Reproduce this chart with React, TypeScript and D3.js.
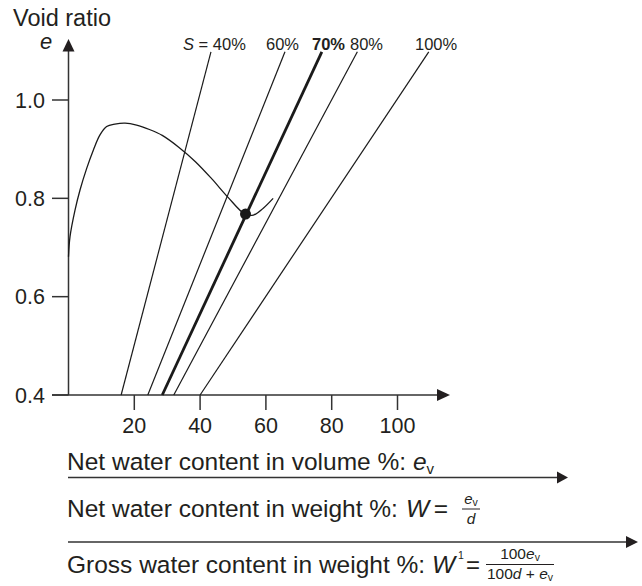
import React from "react";
import * as d3 from "d3";

// ---- data ----
const yTicks = [0.4, 0.6, 0.8, 1.0];
const xTicks = [20, 40, 60, 80, 100];
const saturationLabels = ["40%", "60%", "70%", "80%", "100%"];
const saturationBold = [false, false, true, false, false];
// each saturation line runs from (evBottom, eBottom) to (evTop, eTop)
const satEvBottom = [16.0, 24.1, 28.5, 32.0, 40.0];
const satEvTop = [43.3, 65.8, 77.0, 87.8, 109.5];
const satEBottom = 0.4;
const satETop = 1.098;
// compaction curve: net water content in volume % (ev) vs void ratio (e)
const curveEv = [0, 0.46, 1.98, 3.5, 5.53, 7.54, 9.57, 11.6, 14.1, 17.2, 20.7, 24.6, 28.5, 33.5, 38.5, 43.5, 48.5, 53.6, 56.2, 59.2, 62.2];
const curveE = [0.681, 0.722, 0.776, 0.817, 0.861, 0.898, 0.929, 0.946, 0.951, 0.953, 0.949, 0.94, 0.928, 0.904, 0.875, 0.84, 0.802, 0.768, 0.766, 0.78, 0.8];
const optimumEv = [53.8];
const optimumE = [0.768];

const FONT = "'Liberation Sans', Arial, Helvetica, sans-serif";
const INK = "#231f20";

export default function App() {
  const x = d3.scaleLinear().domain([0, 100]).range([68.5, 397.5]);
  const y = d3.scaleLinear().domain([0.4, 1.0]).range([395, 100]);
  const x0 = x(0);
  const y0 = y(0.4);

  const curvePts: [number, number][] = curveEv.map((v, i) => [v, curveE[i]]);
  const line = d3
    .line<[number, number]>()
    .x((d) => x(d[0]))
    .y((d) => y(d[1]))
    .curve(d3.curveCatmullRom.alpha(0.5));

  const labelX = [183, 266, 312, 350, 415];

  return (
    <svg
      width={642}
      height={586}
      style={{ position: "absolute", left: 0, top: 0, background: "#fff" }}
      fontFamily={FONT}
    >
      {/* Axis title */}
      <text x={13} y={25.5} fontSize={23.5} fill={INK}>Void ratio</text>
      <text x={40} y={49} fontSize={22} fontStyle="italic" fill={INK}>e</text>

      {/* Y axis */}
      <line x1={x0} y1={y0} x2={x0} y2={50} stroke="#333" strokeWidth={1.5} />
      <path d={`M${x0},39 L${x0 - 6},51.5 L${x0 + 6},51.5 Z`} fill={INK} />
      {yTicks.map((t) => (
        <g key={t}>
          <line x1={52} x2={x0} y1={y(t)} y2={y(t)} stroke="#333" strokeWidth={1.5} />
          <text x={45} y={y(t) + 7.5} textAnchor="end" fontSize={21.5} fill={INK}>
            {t.toFixed(1)}
          </text>
        </g>
      ))}

      {/* X axis */}
      <line x1={52} y1={y0} x2={438} y2={y0} stroke="#333" strokeWidth={1.5} />
      <path d={`M450,${y0} L437,${y0 - 6} L437,${y0 + 6} Z`} fill={INK} />
      {xTicks.map((t) => (
        <g key={t}>
          <line x1={x(t)} x2={x(t)} y1={y0} y2={410} stroke="#333" strokeWidth={1.5} />
          <text x={x(t)} y={432.5} textAnchor="middle" fontSize={21.5} fill={INK}>
            {t}
          </text>
        </g>
      ))}

      {/* Saturation lines */}
      {saturationLabels.map((lab, i) => (
        <line
          key={lab}
          x1={x(satEvBottom[i])}
          y1={y(satEBottom)}
          x2={x(satEvTop[i])}
          y2={y(satETop)}
          stroke="#1a1a1a"
          strokeWidth={saturationBold[i] ? 2.8 : 1.2}
        />
      ))}
      {/* Saturation labels */}
      <text x={labelX[0]} y={50} fontSize={16.5} fill={INK}>
        <tspan fontStyle="italic">S</tspan>
        <tspan> = 40%</tspan>
      </text>
      {saturationLabels.slice(1).map((lab, j) => (
        <text
          key={lab}
          x={labelX[j + 1]}
          y={50}
          fontSize={16.5}
          fontWeight={saturationBold[j + 1] ? "bold" : "normal"}
          fill={INK}
        >
          {lab}
        </text>
      ))}

      {/* Compaction curve */}
      <path d={line(curvePts) || ""} fill="none" stroke="#1a1a1a" strokeWidth={1.3} />
      {optimumEv.map((v, i) => (
        <circle key={i} cx={x(v)} cy={y(optimumE[i])} r={5.5} fill="#1a1a1a" />
      ))}

      {/* Bottom scale 1 */}
      <text x={67} y={470} fontSize={24.5} fill={INK}>
        Net water content in volume %:{" "}
        <tspan fontStyle="italic">e</tspan>
        <tspan fontSize={15} dy={4}>v</tspan>
      </text>
      <line x1={68} y1={477.5} x2={559} y2={477.5} stroke="#333" strokeWidth={1.5} />
      <path d="M568,477.5 L557,471.5 L557,483.5 Z" fill={INK} />

      {/* Bottom scale 2 */}
      <text x={67} y={517} fontSize={24.5} fill={INK}>
        Net water content in weight %:
      </text>
      <text x={406} y={517} fontSize={24.5} fontStyle="italic" fill={INK}>W</text>
      <text x={441} y={517} fontSize={24.5} textAnchor="middle" fill={INK}>=</text>
      <text x={471} y={504} fontSize={15} textAnchor="middle" fill={INK}>
        <tspan fontStyle="italic">e</tspan>
        <tspan fontSize={10.5} dy={2}>v</tspan>
      </text>
      <line x1={462} x2={480} y1={509} y2={509} stroke={INK} strokeWidth={1} />
      <text x={471} y={524} fontSize={15.5} textAnchor="middle" fontStyle="italic" fill={INK}>d</text>
      <line x1={68} y1={542} x2={628} y2={542} stroke="#333" strokeWidth={1.5} />
      <path d="M638,542 L626,536 L626,548 Z" fill={INK} />

      {/* Bottom scale 3 */}
      <text x={67} y={573} fontSize={24.5} fill={INK}>
        Gross water content in weight %:
      </text>
      <text x={432} y={573} fontSize={24.5} fontStyle="italic" fill={INK}>W</text>
      <text x={458} y={559} fontSize={10.5} fill={INK}>1</text>
      <text x={473} y={573} fontSize={24} textAnchor="middle" fill={INK}>=</text>
      <text x={520} y={559} fontSize={15.5} textAnchor="middle" fill={INK}>
        100<tspan fontStyle="italic">e</tspan>
        <tspan fontSize={10.5} dy={2}>v</tspan>
      </text>
      <line x1={486} x2={554} y1={564.5} y2={564.5} stroke={INK} strokeWidth={1} />
      <text x={520} y={579} fontSize={15.5} textAnchor="middle" fill={INK}>
        100<tspan fontStyle="italic">d</tspan> + <tspan fontStyle="italic">e</tspan>
        <tspan fontSize={10.5} dy={2}>v</tspan>
      </text>
    </svg>
  );
}
